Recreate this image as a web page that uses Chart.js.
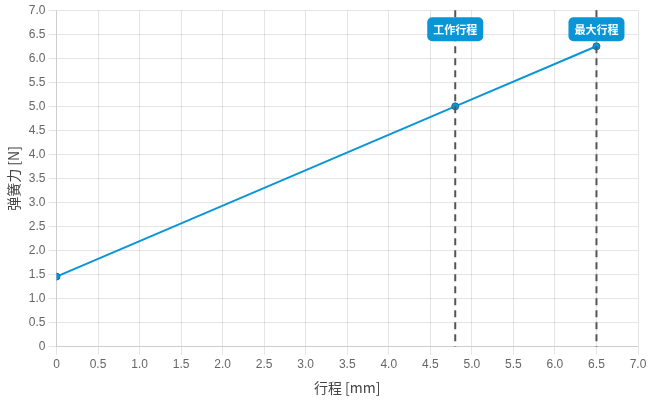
<!DOCTYPE html>
<html>
<head>
<meta charset="utf-8">
<script src="https://cdn.jsdelivr.net/npm/chart.js@4"></script>
<style>
	html, body { margin: 0; padding: 0; background: #fff; }
	#wrap { width: 650px; height: 400px; }
</style>
</head>
<body>
<div id="wrap"><canvas id="springChart"></canvas></div>
<script>
// Spring force vs. stroke
const strokeValues = [0, 4.8, 6.5];
const forceValues = [1.46, 5.0, 6.25];

// Vertical markers
const markerPositions = [4.8, 6.5];
const markerLabels = ['工作行程', '最大行程'];

const xTitle = '行程 [mm]';
const yTitle = '弹簧力 [N]';

const lineBlue = '#0a96d6';

// Draws the dashed marker lines and their labels
const markerPlugin = {
	id: 'markers',
	afterDatasetsDraw(chart) {
		const ctx = chart.ctx;
		const area = chart.chartArea;
		const x = chart.scales.x;

		ctx.save();
		markerPositions.forEach((pos, i) => {
			const px = x.getPixelForValue(pos);

			ctx.beginPath();
			ctx.setLineDash([7, 5]);
			ctx.lineWidth = 2;
			ctx.strokeStyle = '#555';
			ctx.moveTo(px, area.top);
			ctx.lineTo(px, area.bottom);
			ctx.stroke();

			// Label box
			ctx.setLineDash([]);
			ctx.font = 'bold 11px "Noto Sans CJK SC", sans-serif';
			const w = ctx.measureText(markerLabels[i]).width + 12;
			const h = 24;
			const top = area.top + 7;
			ctx.fillStyle = lineBlue;
			ctx.beginPath();
			ctx.roundRect(px - w / 2, top, w, h, 5);
			ctx.fill();

			ctx.fillStyle = '#fff';
			ctx.textAlign = 'center';
			ctx.textBaseline = 'middle';
			ctx.fillText(markerLabels[i], px, top + h / 2 + 1);
		});
		ctx.restore();
	}
};

function tickLabel(v) {
	return v === 0 ? '0' : v.toFixed(1);
}

window.onload = () => {
	let context = document.querySelector('#springChart');

	new Chart(context, {
		type: 'line',
		data: {
			datasets: [{
				data: strokeValues.map((s, i) => ({ x: s, y: forceValues[i] })),
				borderColor: lineBlue,
				backgroundColor: lineBlue,
				borderWidth: 2,
				pointRadius: 3.5,
				pointBorderColor: '#1a6e9a',
				pointBorderWidth: 1,
				tension: 0,
			}]
		},
		options: {
			animation: false,
			responsive: true,
			maintainAspectRatio: false,
			layout: { padding: { top: 9, right: 12, left: 1, bottom: 0 } },
			plugins: {
				legend: { display: false },
				tooltip: { enabled: false },
			},
			scales: {
				x: {
					type: 'linear',
					min: 0,
					max: 7,
					ticks: {
						stepSize: 0.5,
						color: '#666',
						font: { size: 12 },
						callback: tickLabel,
					},
					grid: { color: 'rgba(0,0,0,0.1)' },
					title: {
						display: true,
						text: xTitle,
						color: '#444',
						font: { size: 14, family: '"Noto Sans CJK SC", sans-serif' },
					},
				},
				y: {
					min: 0,
					max: 7,
					ticks: {
						stepSize: 0.5,
						color: '#666',
						font: { size: 12 },
						callback: tickLabel,
					},
					grid: { color: 'rgba(0,0,0,0.1)' },
					title: {
						display: true,
						text: yTitle,
						color: '#444',
						font: { size: 14, family: '"Noto Sans CJK SC", sans-serif' },
					},
				},
			},
		},
		plugins: [markerPlugin],
	});
};
</script>
</body>
</html>
